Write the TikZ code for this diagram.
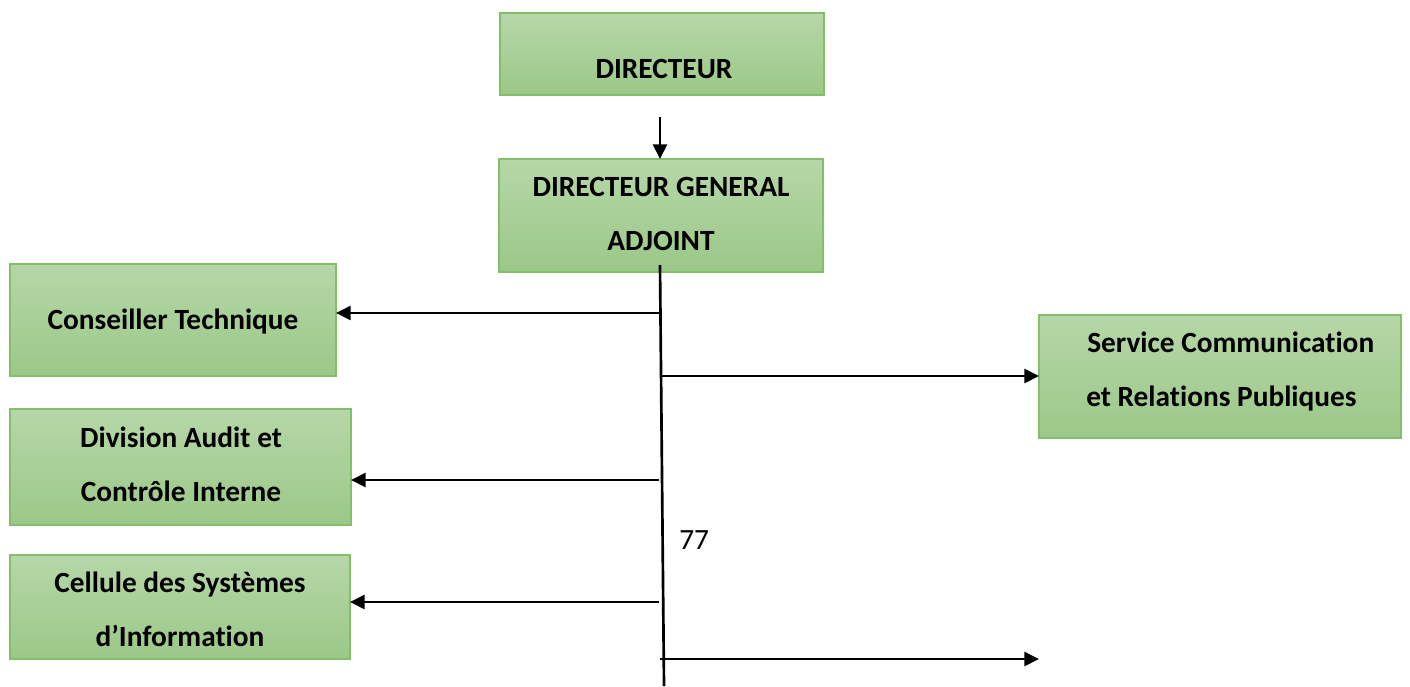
\documentclass[tikz,border=0pt]{standalone}
\usepackage{fontspec}
\setmainfont{Carlito}[Ligatures=NoCommon]
\usetikzlibrary{arrows.meta}
\definecolor{boxtop}{HTML}{B6D7A8}
\definecolor{boxbot}{HTML}{9BC888}
\definecolor{boxline}{HTML}{84BE68}
\tikzset{
  orgbox/.style={draw=boxline, line width=0.9pt, top color=boxtop, bottom color=boxbot, inner sep=0pt},
  lbl/.style={font=\fontsize{22}{26}\selectfont\bfseries, inner sep=0pt, anchor=base},
  conn/.style={line width=2pt, -{Triangle[length=11pt,width=10.5pt]}},
  trunk/.style={line width=2pt}
}
\begin{document}
\begin{tikzpicture}[x=0.75pt,y=-0.75pt]
\useasboundingbox (0,0) rectangle (1410,686);
% boxes
\path[orgbox] (500,13) rectangle (824,95);
\node[lbl] (dir) at (664,78) {DIRECTEUR};
\path[orgbox] (499,159) rectangle (823,272);
\node[lbl] (dga1) at (661,196) {DIRECTEUR GENERAL};
\node[lbl] (dga2) at (661,250) {ADJOINT};
\path[orgbox] (10,264) rectangle (336,376);
\node[lbl] (ct) at (173,329) {Conseiller Technique};
\path[orgbox] (10,409) rectangle (351,525);
\node[lbl] (dac1) at (181,447) {Division Audit et};
\node[lbl] (dac2) at (181,501) {Contrôle Interne};
\path[orgbox] (10,555) rectangle (350,659);
\node[lbl] (csi1) at (180,592) {Cellule des Systèmes};
\node[lbl] (csi2) at (180,646) {d’Information};
\path[orgbox] (1039,315) rectangle (1401,438);
\node[lbl, anchor=base west] (scr1) at (1087,352) {Service Communication};
\node[lbl, anchor=base west] (scr2) at (1086,406) {et Relations Publiques};
% named anchors
\coordinate (dirB) at (660,117);
\coordinate (dgaT) at (660,159);
\coordinate (tTop) at (660,265);
\coordinate (tBot) at (664,686);
\coordinate (b1) at (660,313);
\coordinate (ctR) at (336,313);
\coordinate (b2) at (662,376);
\coordinate (scrL) at (1039,376);
\coordinate (b3) at (659,480);
\coordinate (dacR) at (351,480);
\coordinate (b4) at (659,602);
\coordinate (csiR) at (350,602);
\coordinate (b5) at (660,659);
\coordinate (endR) at (1039,659);
% connectors
\draw[conn] (dirB) -- (dgaT);
\draw[trunk] (tTop) -- (tBot);
\draw[conn] (b1) -- (ctR);
\draw[conn] (b2) -- (scrL);
\draw[conn] (b3) -- (dacR);
\draw[conn] (b4) -- (csiR);
\draw[conn] (b5) -- (endR);
\node[font=\fontsize{22}{26}\selectfont, inner sep=0pt, anchor=base west] (num) at (679,549) {77};
\end{tikzpicture}
\end{document}
